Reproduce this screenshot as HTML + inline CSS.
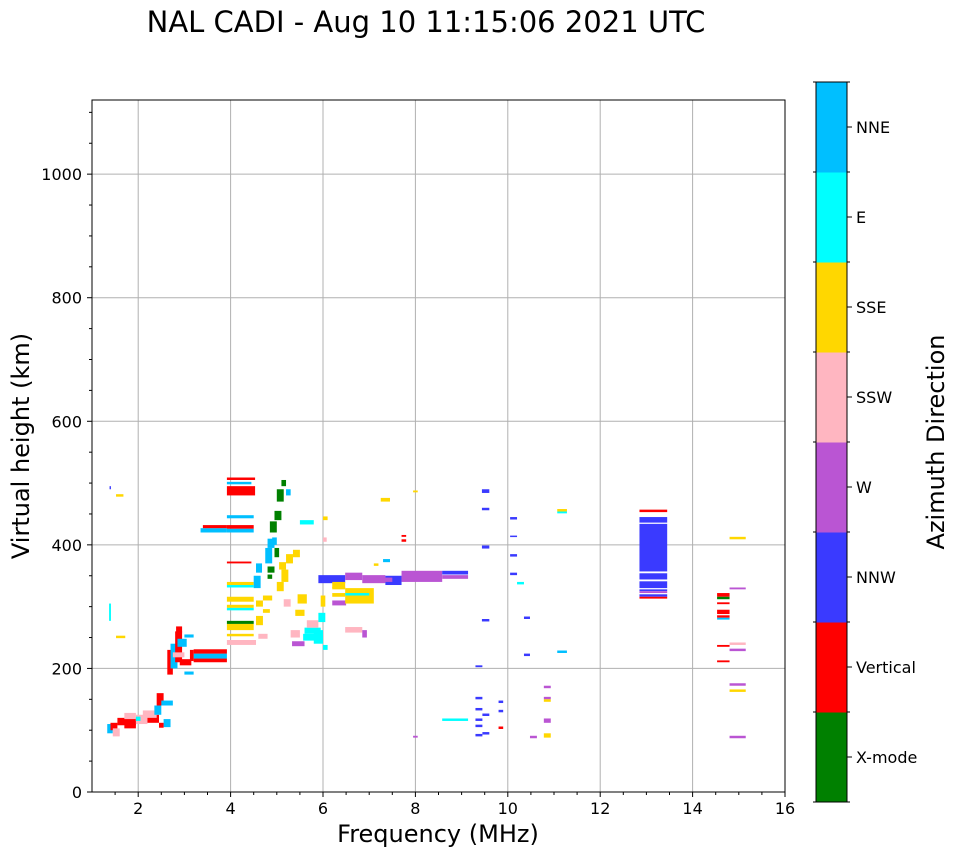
<!DOCTYPE html>
<html><head><meta charset="utf-8">
<style>
body{margin:0;background:#fff;font-family:"Liberation Sans","DejaVu Sans",sans-serif;}
svg text{font-family:"DejaVu Sans","Liberation Sans",sans-serif;}
</style></head>
<body>
<svg id="chart" width="958" height="857" viewBox="0 0 958 857" xmlns="http://www.w3.org/2000/svg">
<rect width="958" height="857" fill="#fff"/>
<text x="426" y="32" font-size="29" text-anchor="middle">NAL CADI - Aug 10 11:15:06 2021 UTC</text>
<g id="grid"></g>
<g id="marks"></g>
<g id="axes"></g>
<g id="cbar"></g>
<text x="438" y="842" font-size="24" text-anchor="middle">Frequency (MHz)</text>
<text transform="translate(29,446) rotate(-90)" font-size="24" text-anchor="middle">Virtual height (km)</text>
<text transform="translate(944,442) rotate(-90)" font-size="24" text-anchor="middle">Azimuth Direction</text>
</svg>
<script>
const categories = ["X-mode","Vertical","NNW","W","SSW","SSE","E","NNE"];
const categoryColors = ["#008000","#ff0000","#3a3aff","#ba55d3","#ffb6c1","#ffd700","#00ffff","#00bfff"];
const xTicks = [2,4,6,8,10,12,14,16];
const yTicks = [0,200,400,600,800,1000];
// echoes: [freqStart, freqEnd, heightStart, heightEnd, categoryIndex]
const echoes = [
[1.37,1.41,277,305,6],[1.38,1.41,490,495,2],[1.52,1.68,478,482,5],[1.52,1.72,249,253,5],
[1.33,1.45,95,110,7],[1.40,1.55,100,112,1],[1.55,1.95,108,120,1],[1.70,1.95,103,115,1],[1.70,1.95,118,128,4],[1.45,1.60,90,103,4],
[1.95,2.20,110,125,4],[2.20,2.45,112,125,1],[2.10,2.40,120,132,4],[2.35,2.50,125,140,7],[2.40,2.55,140,160,1],[2.50,2.75,140,148,7],[2.55,2.7,105,118,7],[1.95,2.05,115,122,6],[2.45,2.55,104,112,1],
[2.63,2.75,190,230,1],[2.70,2.85,200,240,7],[2.80,2.95,210,260,1],[2.85,3.05,235,248,7],[2.82,2.95,258,268,1],[3.0,3.2,190,195,7],[2.90,3.15,205,215,1],[2.75,3.0,218,226,4],[3.0,3.2,250,255,7],
[3.20,3.92,210,216,1],[3.20,3.92,216,224,7],[3.20,3.92,224,231,1],[3.12,3.2,212,230,1],
[3.35,3.92,420,427,7],[3.4,3.92,427,432,1],[3.92,4.5,426,432,1],[3.92,4.5,420,426,7],[3.92,4.53,480,495,1],[3.92,4.45,498,502,7],[3.92,4.53,505,509,1],[3.92,4.5,443,448,7],[3.92,4.45,370,373,1],
[3.92,4.5,335,340,5],[3.92,4.5,331,335,6],[3.92,4.5,308,316,5],[3.92,4.5,298,303,5],[3.92,4.5,294,298,6],[3.92,4.5,272,277,0],[3.92,4.5,262,272,5],[3.92,4.5,252,256,5],[3.92,4.55,238,246,4],
[4.5,4.65,330,350,7],[4.55,4.7,300,310,5],[4.55,4.7,270,285,5],[4.6,4.8,248,256,4],[4.7,4.9,310,318,5],[4.7,4.85,290,296,5],[4.55,4.68,355,370,7],
[4.75,4.9,370,395,7],[4.8,4.95,395,410,7],[4.85,5.0,420,438,0],[4.95,5.1,440,455,0],[5.0,5.15,470,490,0],[4.95,5.05,380,395,0],[5.05,5.2,360,372,5],[4.8,4.95,355,365,0],[4.8,4.9,345,352,0],[5.1,5.25,340,360,5],[5.0,5.15,325,340,5],[5.2,5.35,370,385,5],[5.15,5.3,300,312,4],[5.1,5.2,495,505,0],[5.2,5.3,480,490,7],[4.9,5.0,400,412,7],
[5.33,5.6,236,244,3],[5.3,5.5,250,262,4],[5.45,5.65,305,320,5],[5.35,5.5,380,392,5],[5.5,5.8,433,440,6],[5.4,5.6,285,295,5],
[5.57,5.85,245,256,6],[5.6,5.95,256,266,6],[5.65,5.9,266,278,4],[5.8,6.0,240,262,6],[5.9,6.05,275,290,6],[5.95,6.05,300,318,5],[6.0,6.1,230,238,6],
[6.48,6.85,258,267,4],[6.2,6.5,302,310,3],[5.9,6.48,338,351,2],[6.2,6.48,330,340,5],[6.48,6.85,343,355,3],[6.85,7.35,338,351,3],[7.35,7.7,335,350,2],[7.2,7.5,340,347,3],[7.7,8.58,340,358,3],[8.58,9.14,352,358,2],[8.58,9.14,345,351,3],
[6.48,7.1,305,330,5],[6.48,7.0,318,322,6],[6.2,6.48,316,322,5],[6.2,6.48,328,332,5],[6.85,6.95,250,262,3],[7.25,7.45,470,476,5],[7.3,7.45,372,377,7],[7.7,7.8,405,409,1],[7.7,7.8,413,416,1],[7.1,7.2,366,370,5],[7.95,8.05,485,488,5],[7.95,8.05,88,91,3],[6.0,6.1,440,446,5],[6.0,6.08,405,412,4],
[8.58,9.14,115,119,6],[9.44,9.6,484,490,2],[9.44,9.6,456,460,2],[9.44,9.6,394,399,2],[9.44,9.6,276,280,2],[9.3,9.45,202,205,2],
[9.3,9.45,150,154,2],[9.3,9.45,132,136,2],[9.3,9.45,115,119,2],[9.3,9.45,105,109,2],[9.3,9.45,90,94,2],[9.45,9.6,123,127,2],[9.45,9.6,93,97,2],[9.8,9.9,144,148,2],[9.8,9.9,129,133,2],[9.8,9.9,102,106,1],
[10.05,10.2,441,445,2],[10.05,10.2,413,415,2],[10.05,10.2,381,385,2],[10.05,10.2,351,355,2],[10.2,10.35,336,340,6],[10.35,10.48,280,284,2],[10.35,10.48,220,224,2],
[10.78,10.93,168,172,3],[10.78,10.93,150,154,3],[10.78,10.93,146,150,5],[10.78,10.93,112,119,3],[10.78,10.93,88,95,5],[10.48,10.63,87,91,3],
[11.07,11.28,454,458,5],[11.07,11.28,451,454,6],[11.07,11.28,225,229,7],
[12.85,13.45,453,457,1],[12.85,13.45,436,445,2],[12.85,13.45,357,434,2],[12.85,13.45,344,354,2],[12.85,13.45,330,341,2],[12.85,13.45,325,328,2],[12.85,13.45,322,325,3],[12.85,13.45,316,320,2],[12.85,13.45,313,316,1],
[14.53,14.8,316,322,1],[14.53,14.8,312,316,0],[14.53,14.8,304,307,1],[14.53,14.8,288,295,1],[14.53,14.8,282,286,1],[14.53,14.8,279,282,7],[14.53,14.8,235,238,1],[14.53,14.8,210,213,1],
[14.8,15.15,328,331,3],[14.8,15.15,238,242,4],[14.8,15.15,228,232,3],[14.8,15.15,172,176,3],[14.8,15.15,162,166,5],[14.8,15.15,87,91,3],[14.8,15.15,409,413,5]
];

const NS="http://www.w3.org/2000/svg";
const L=92,R=785,T=100,B=792;
const xMin=1,xMax=16,yMin=0,yMax=1120;
const xs=f=>L+(f-xMin)/(xMax-xMin)*(R-L);
const ys=h=>B-(h-yMin)/(yMax-yMin)*(B-T);
function mk(tag,attrs,parent){const e=document.createElementNS(NS,tag);for(const k in attrs)e.setAttribute(k,attrs[k]);parent.appendChild(e);return e;}
const grid=document.getElementById('grid'),marks=document.getElementById('marks'),axes=document.getElementById('axes'),cb=document.getElementById('cbar');

xTicks.forEach(v=>{
  const x=xs(v);
  if(v<xMax){const g=mk('line',{x1:x,x2:x,y1:T,y2:B,stroke:'#b0b0b0','stroke-width':1},grid);
  
  }
  mk('line',{x1:x,x2:x,y1:B,y2:B+5,stroke:'#000'},axes);
  const t=mk('text',{x:x,y:B+22,'font-size':16,'text-anchor':'middle'},axes);t.textContent=v;
  
  
});
for(let v=1.5;v<16;v+=0.5){if(v%2!==0){const x=xs(v);mk('line',{x1:x,x2:x,y1:B,y2:B+3,stroke:'#000'},axes);}}
yTicks.forEach(v=>{
  const y=ys(v);
  if(v>0){const g=mk('line',{x1:L,x2:R,y1:y,y2:y,stroke:'#b0b0b0','stroke-width':1},grid);
  
  }
  mk('line',{x1:L-5,x2:L,y1:y,y2:y,stroke:'#000'},axes);
  const t=mk('text',{x:L-10,y:y+6,'font-size':16,'text-anchor':'end'},axes);t.textContent=v;
  
  
});
for(let v=50;v<1120;v+=50){if(v%200!==0){const y=ys(v);mk('line',{x1:L-3,x2:L,y1:y,y2:y,stroke:'#000'},axes);}}
const frame=mk('rect',{x:L,y:T,width:R-L,height:B-T,fill:'none',stroke:'#000','stroke-width':1},axes);



echoes.forEach(e=>{
  const x0=xs(e[0]),x1=xs(e[1]),y0=ys(e[3]),y1=ys(e[2]);
  const r=mk('rect',{x:x0,y:y0,width:Math.max(1,x1-x0),height:Math.max(1.5,y1-y0),fill:categoryColors[e[4]]},marks);
  
  
});

// colorbar
const cL=816,cW=31,cT=82,cB=802,n=categories.length,seg=(cB-cT)/n;
categories.forEach((c,i)=>{
  const y=cB-(i+1)*seg;
  const r=mk('rect',{x:cL,y:y,width:cW,height:seg+0.5,fill:categoryColors[i]},cb);
  
  
  mk('line',{x1:cL+cW,x2:cL+cW+5,y1:y+seg/2,y2:y+seg/2,stroke:'#000'},cb);
  const t=mk('text',{x:cL+cW+9,y:y+seg/2+6,'font-size':16},cb);t.textContent=c;
  
  
});
for(let i=0;i<=n;i++){const y=cB-i*seg;mk('line',{x1:cL+cW,x2:cL+cW+3,y1:y,y2:y,stroke:'#000'},cb);mk('line',{x1:cL-3,x2:cL,y1:y,y2:y,stroke:'#000'},cb);}
mk('rect',{x:cL,y:cT,width:cW,height:cB-cT,fill:'none',stroke:'#000'},cb);
</script>
</body></html>
